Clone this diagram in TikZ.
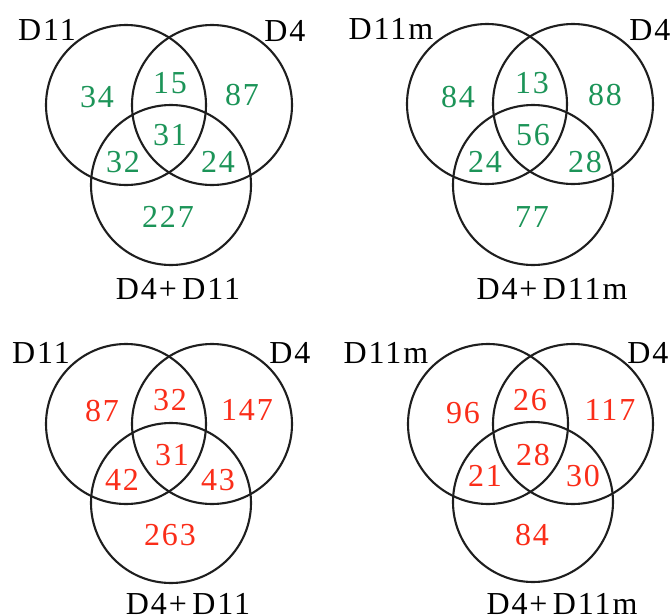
\documentclass[tikz,border=0pt]{standalone}
\usepackage{fontspec}
\setmainfont[LetterSpace=6]{Liberation Serif}
\definecolor{vgreen}{RGB}{28,148,88}
\definecolor{vred}{RGB}{250,45,25}
\definecolor{vline}{RGB}{30,30,30}
\begin{document}
\begin{tikzpicture}[x=1pt,y=-1pt,
  vc/.style={circle,draw=vline,line width=2.1pt,minimum size=160pt,inner sep=0pt},
  lab/.style={font=\fontsize{32}{36}\selectfont,text=black,inner sep=0pt},
  gn/.style={font=\fontsize{32}{36}\selectfont,text=vgreen,inner sep=0pt},
  rn/.style={font=\fontsize{32}{36}\selectfont,text=vred,inner sep=0pt}]
\useasboundingbox (0,0) rectangle (670,616);
% Panel 1
\node[vc] (p1a) at (126,105) {};
\node[vc] (p1b) at (212,105) {};
\node[vc] (p1c) at (171,185) {};
\node[lab] (p1la) at (47,30) {D11};
\node[lab] (p1lb) at (285,31) {D4};
\node[lab] (p1lc) at (178,289) {D4+\,D11};
\node[gn] (p1n1) at (97,97) {34};
\node[gn] (p1n2) at (170,83) {15};
\node[gn] (p1n3) at (242,95) {87};
\node[gn] (p1n4) at (170,135) {31};
\node[gn] (p1n5) at (123,162) {32};
\node[gn] (p1n6) at (218,162) {24};
\node[gn] (p1n7) at (168,217) {227};
% Panel 2
\node[vc] (p2a) at (487,104) {};
\node[vc] (p2b) at (573,104) {};
\node[vc] (p2c) at (533,185) {};
\node[lab] (p2la) at (391,29) {D11m};
\node[lab] (p2lb) at (650,30) {D4};
\node[lab] (p2lc) at (552,289) {D4+\,D11m};
\node[gn] (p2n1) at (458,97) {84};
\node[gn] (p2n2) at (532,83) {13};
\node[gn] (p2n3) at (605,95) {88};
\node[gn] (p2n4) at (533,135) {56};
\node[gn] (p2n5) at (485,162) {24};
\node[gn] (p2n6) at (585,162) {28};
\node[gn] (p2n7) at (532,217) {77};
% Panel 3
\node[vc] (p3a) at (126,424) {};
\node[vc] (p3b) at (212,424) {};
\node[vc] (p3c) at (171,503) {};
\node[lab] (p3la) at (41,353) {D11};
\node[lab] (p3lb) at (290,353) {D4};
\node[lab] (p3lc) at (188,604) {D4+\,D11};
\node[rn] (p3n1) at (102,411) {87};
\node[rn] (p3n2) at (170,400) {32};
\node[rn] (p3n3) at (247,410) {147};
\node[rn] (p3n4) at (172,455) {31};
\node[rn] (p3n5) at (122,480) {42};
\node[rn] (p3n6) at (218,480) {43};
\node[rn] (p3n7) at (170,535) {263};
% Panel 4
\node[vc] (p4a) at (488,424) {};
\node[vc] (p4b) at (573,424) {};
\node[vc] (p4c) at (533,502) {};
\node[lab] (p4la) at (386,353) {D11m};
\node[lab] (p4lb) at (648,353) {D4};
\node[lab] (p4lc) at (562,604) {D4+\,D11m};
\node[rn] (p4n1) at (463,413) {96};
\node[rn] (p4n2) at (530,400) {26};
\node[rn] (p4n3) at (610,410) {117};
\node[rn] (p4n4) at (533,455) {28};
\node[rn] (p4n5) at (485,476) {21};
\node[rn] (p4n6) at (583,476) {30};
\node[rn] (p4n7) at (532,535) {84};
\end{tikzpicture}
\end{document}
